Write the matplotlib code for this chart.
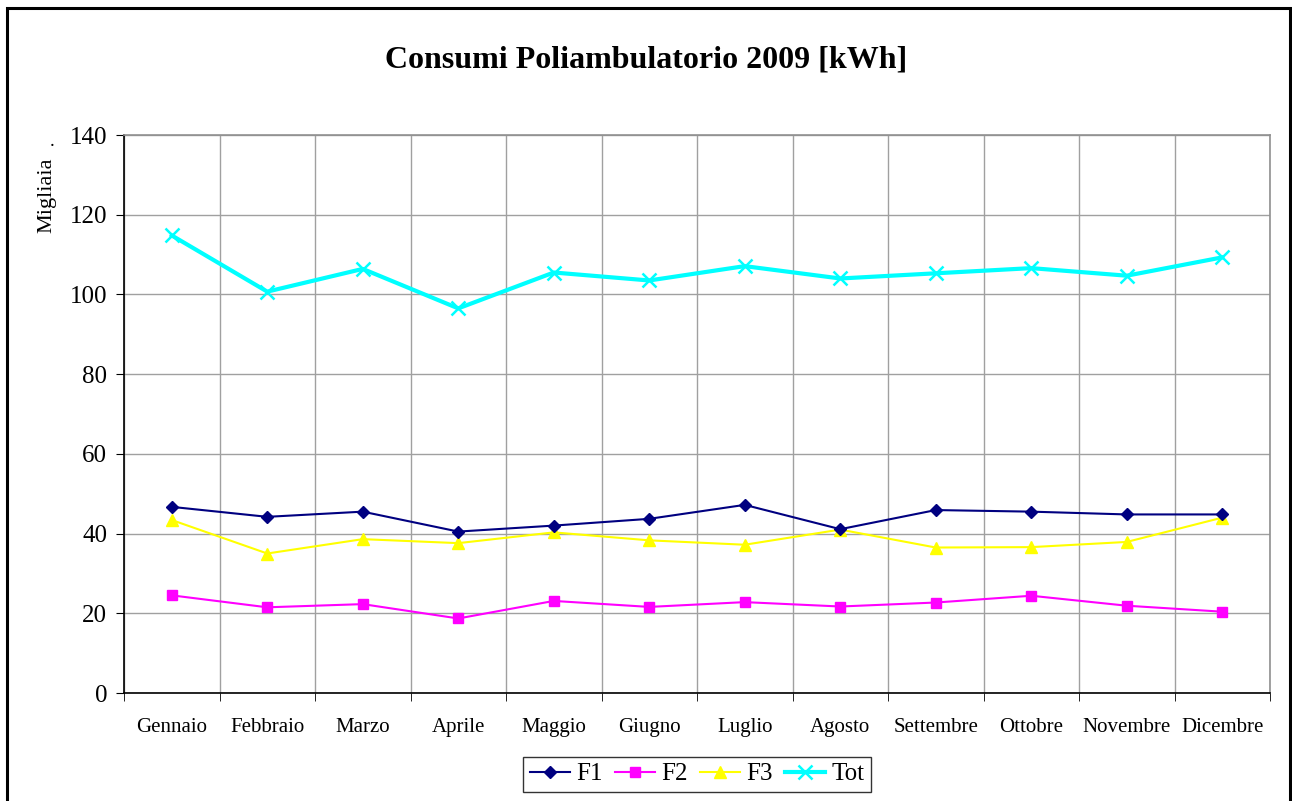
import matplotlib
matplotlib.use("Agg")
import matplotlib.pyplot as plt
from matplotlib.patches import Rectangle
import numpy as np

months = ["Gennaio", "Febbraio", "Marzo", "Aprile", "Maggio", "Giugno",
          "Luglio", "Agosto", "Settembre", "Ottobre", "Novembre", "Dicembre"]
f1 = [46.7, 44.2, 45.5, 40.5, 42.0, 43.7, 47.2, 41.1, 45.9, 45.5, 44.8, 44.8]
f2 = [24.5, 21.5, 22.3, 18.7, 23.1, 21.6, 22.8, 21.7, 22.7, 24.4, 21.9, 20.4]
f3 = [43.4, 35.0, 38.6, 37.6, 40.3, 38.3, 37.2, 41.0, 36.5, 36.6, 37.9, 44.0]
tot = [114.8, 100.7, 106.4, 96.5, 105.5, 103.5, 107.1, 104.0, 105.3, 106.6, 104.7, 109.3]
yticks = [0, 20, 40, 60, 80, 100, 120, 140]

plt.rcParams['font.family'] = ['Liberation Serif', 'DejaVu Serif']

W, H = 1292, 801
fig = plt.figure(figsize=(W / 100, H / 100), dpi=100)
fig.patch.set_facecolor('white')

# outer chart border
fig.patches.append(Rectangle((7 / W, -0.01), (1290 - 7) / W, (H - 8) / H + 0.01,
                             transform=fig.transFigure, fill=False,
                             edgecolor='black', linewidth=2.2))

ax = fig.add_axes([124 / W, 1 - 693 / H, (1270 - 124) / W, (693 - 135) / H])
x = np.arange(len(months))

ax.plot(x, tot, color='#00FFFF', lw=3, marker='x', ms=10, mew=1.8, label='Tot', zorder=3)
ax.plot(x, f3, color='#FFFF00', lw=1.5, marker='^', ms=8, label='F3', zorder=4)
ax.plot(x, f2, color='#FF00FF', lw=1.5, marker='s', ms=7, label='F2', zorder=4)
ax.plot(x, f1, color='#000080', lw=1.5, marker='D', ms=6, label='F1', zorder=5)

ax.set_xlim(-0.5, len(months) - 0.5)
ax.set_ylim(0, 140)
ax.set_yticks(yticks)
ax.set_yticklabels([str(v) for v in yticks], fontsize=18)
ax.set_xticks(x)
ax.set_xticklabels(months, fontsize=15)
ax.tick_params(axis='x', length=0, pad=18)
ax.set_xticks(np.arange(-0.5, len(months), 1), minor=True)
ax.tick_params(axis='x', which='minor', length=6, direction='out', color='black')
ax.tick_params(axis='y', length=6, direction='out', color='black', pad=6)

ax.grid(True, axis='y', which='major', color='#A0A0A0', lw=1)
ax.grid(True, axis='x', which='minor', color='#A0A0A0', lw=1)
ax.set_axisbelow(True)

ax.spines['left'].set_color('black')
ax.spines['bottom'].set_color('black')
ax.spines['top'].set_color('#909090')
ax.spines['right'].set_color('#909090')
for s in ax.spines.values():
    s.set_linewidth(1.2)

fig.text(0.5, 1 - 60 / H, "Consumi Poliambulatorio 2009 [kWh]", ha='center', va='center',
         fontsize=23, fontweight='bold')
fig.text(47 / W, 1 - 195 / H, "Migliaia", rotation=90, ha='center', va='center', fontsize=16)
fig.text(52 / W, 1 - 142 / H, ".", ha='center', va='center', fontsize=14)

handles, labels = ax.get_legend_handles_labels()
order = [3, 2, 1, 0]
leg = fig.legend([handles[i] for i in order], [labels[i] for i in order],
                 loc='center', bbox_to_anchor=(697 / W, 1 - 774 / H), ncol=4,
                 fontsize=18, frameon=True, fancybox=False, edgecolor='black',
                 handlelength=1.6, handletextpad=0.25, columnspacing=0.5,
                 borderpad=0.25)
leg.get_frame().set_linewidth(1.0)

fig.savefig("out.png", dpi=100)
